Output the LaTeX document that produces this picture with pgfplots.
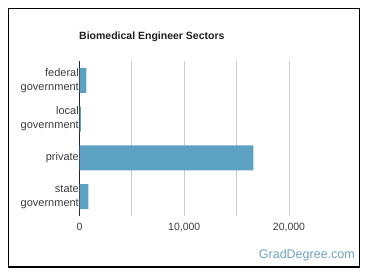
\documentclass[border=0pt]{standalone}
\usepackage{pgfplots}
\pgfplotsset{compat=1.18}
\usepackage{fontspec}
\setmainfont{Liberation Sans}
\definecolor{barblue}{RGB}{92,161,193}
\definecolor{gridgray}{RGB}{206,206,206}
\definecolor{labelgray}{RGB}{60,60,60}
\definecolor{brand}{RGB}{112,162,192}
\begin{document}
\begin{tikzpicture}[x=1bp,y=1bp]
\path[use as bounding box] (0,0) rectangle (370,278);
\draw[line width=1.5bp] (8.5,11) rectangle (359.5,269.5);
\node[anchor=west, inner sep=0, font=\fontsize{10.5bp}{12bp}\selectfont\bfseries, text=black!88] at (79,241) {Biomedical Engineer Sectors};
\begin{axis}[
  at={(79.5bp,62bp)}, anchor=south west,
  scale only axis, width=209.5bp, height=155bp,
  xbar, bar width=25bp,
  xmin=0, xmax=20000,
  ymin=-0.5, ymax=3.5, y dir=reverse,
  ytick={0,1,2,3},
  yticklabels={federal\\government, local\\government, private, state\\government},
  yticklabel style={align=right, font=\fontsize{11bp}{14bp}\selectfont, text=labelgray, inner sep=0.5bp},
  xtick={0,10000,20000},
  minor xtick={5000,15000},
  xmajorgrids, xminorgrids,
  major grid style={gridgray, line width=0.8bp},
  minor grid style={gridgray, line width=0.8bp},
  major tick length=0, minor tick length=0,
  axis line style={draw=none},
  /pgf/number format/assume math mode=true,
  /pgf/number format/1000 sep={,},
  scaled x ticks=false,
  xticklabel style={font=\fontsize{10.5bp}{12bp}\selectfont, text=labelgray, yshift=-4bp},
  extra x ticks={0},
  extra x tick labels={},
  extra x tick style={major grid style={black!85, line width=0.9bp}},
]
\addplot[fill=barblue, draw=none] coordinates {
  (650,0) (140,1) (16600,2) (840,3)
};
\end{axis}
\node[anchor=east, inner sep=0, font=\fontsize{12.5bp}{14bp}\selectfont, text=brand] at (355,22.3) {GradDegree.com};
\end{tikzpicture}
\end{document}
